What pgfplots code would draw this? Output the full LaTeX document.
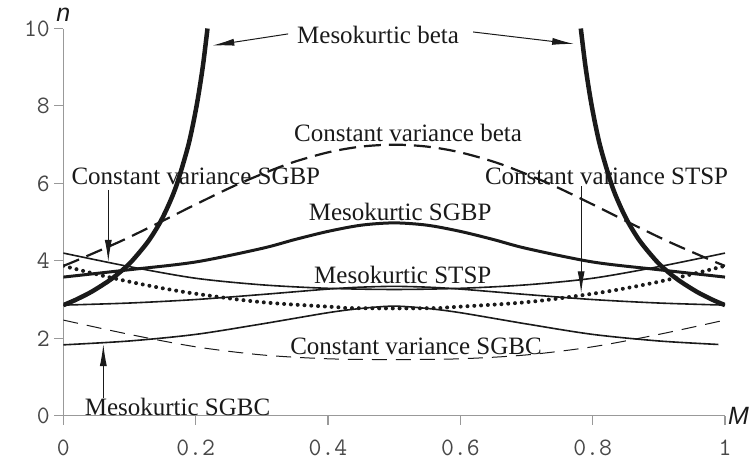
\documentclass[border=0pt]{standalone}
\usepackage{fontspec}
\setmainfont{Liberation Serif}
\newfontfamily\sansfont{Liberation Sans}
\usepackage{pgfplots}
\pgfplotsset{compat=1.18}
\usetikzlibrary{arrows.meta}
\definecolor{ink}{HTML}{1A1A1A}
\definecolor{axgray}{HTML}{999999}
\tikzset{
  lbl/.style={font=\fontsize{25}{30}\selectfont, text=ink, inner sep=0pt},
  arr/.style={ink, line width=1pt, -{Latex[length=22pt,width=7pt]}},
}

\pgfplotstableread{
M n
0 2.856
0.0063 2.9
0.0196 3
0.0426 3.2
0.0702 3.5
0.0886 3.75
0.1040 4
0.1282 4.5
0.1465 5
0.1606 5.5
0.1720 6
0.1892 7
0.2014 8
0.2107 9
0.2179 10
}\mesobetaL
\pgfplotstableread{
M n
0.7821 10
0.7893 9
0.7986 8
0.8108 7
0.8280 6
0.8394 5.5
0.8535 5
0.8718 4.5
0.8960 4
0.9114 3.75
0.9298 3.5
0.9574 3.2
0.9804 3
0.9937 2.9
1 2.856
}\mesobetaR
\pgfplotstableread{
M n
0 3.87
0.0189 4
0.0859 4.5
0.1465 5
0.2052 5.5
0.2667 6
0.3393 6.5
0.3998 6.8
0.4502 6.95
0.5 7
0.5498 6.95
0.6002 6.8
0.6607 6.5
0.7333 6
0.7948 5.5
0.8535 5
0.9141 4.5
0.9811 4
1 3.87
}\cvbeta
\pgfplotstableread{
M n
0 3.87
0.0160 3.8
0.0633 3.6
0.1170 3.4
0.1809 3.2
0.2643 3.0
0.3221 2.9
0.4161 2.8
0.4305 2.78
0.5 2.772
0.5695 2.78
0.5839 2.8
0.6779 2.9
0.7357 3.0
0.8191 3.2
0.8830 3.4
0.9367 3.6
0.9840 3.8
1 3.87
}\cvstsp
\pgfplotstableread{
M n
0 2.856
0.1 2.91
0.2 3.0
0.3 3.13
0.4 3.27
0.45 3.32
0.5 3.34
0.55 3.32
0.6 3.27
0.7 3.13
0.8 3.0
0.9 2.91
1 2.856
}\mesostsp
\pgfplotstableread{
M n
0 4.2
0.1 3.85
0.2 3.55
0.3 3.38
0.4 3.29
0.5 3.26
0.6 3.29
0.7 3.38
0.8 3.55
0.9 3.85
1 4.2
}\cvsgbp
\pgfplotstableread{
M n
0 3.58
0.1 3.77
0.2 3.97
0.3 4.32
0.35 4.55
0.4 4.76
0.45 4.92
0.5 4.98
0.55 4.92
0.6 4.76
0.65 4.55
0.7 4.32
0.8 3.97
0.9 3.77
1 3.58
}\mesosgbp
\pgfplotstableread{
M n
0 1.83
0.1 1.93
0.2 2.1
0.3 2.37
0.4 2.66
0.45 2.77
0.5 2.83
0.55 2.77
0.6 2.66
0.7 2.37
0.8 2.1
0.9 1.93
0.99 1.84
}\mesosgbc
\pgfplotstableread{
M n
0 2.47
0.1 2.1
0.2 1.78
0.3 1.57
0.4 1.47
0.5 1.45
0.6 1.47
0.7 1.57
0.8 1.78
0.9 2.1
1 2.47
}\cvsgbc

\begin{document}
\begin{tikzpicture}
\useasboundingbox (-63.3pt,-51.3pt) rectangle (685.7pt,415.7pt);
\begin{axis}[
  at={(0pt,0pt)}, anchor=south west,
  width=661.7pt, height=387.2pt, scale only axis,
  xmin=0, xmax=1, ymin=0, ymax=10,
  axis x line*=bottom, axis y line*=left,
  axis line style={axgray, line width=1.1pt},
  xtick={0,0.2,0.4,0.6,0.8,1},
  xticklabels={0,0.2,0.4,0.6,0.8,1},
  ytick={0,2,4,6,8,10},
  yticklabels={0,2,4,6,8,10},
  tick align=outside,
  major tick length=9pt,
  tick style={axgray, line width=1.1pt},
  ticklabel style={font=\ttfamily\fontsize{25}{25}\selectfont, text=ink!80},
  xticklabel style={yshift=-15pt, inner sep=0pt},
  yticklabel style={xshift=-1pt},
  clip mode=individual,
  every axis plot/.append style={ink, smooth, no markers},
]
% texts
\node[lbl] at (axis cs:0.4757,9.84) {Mesokurtic beta};
\node[lbl] at (axis cs:0.521,7.30) {Constant variance beta};
\node[lbl] at (axis cs:0.2003,6.18) {Constant variance SGBP};
\node[lbl] at (axis cs:0.821,6.18) {Constant variance STSP};
\node[lbl] at (axis cs:0.509,5.27) {Mesokurtic SGBP};
\node[lbl] at (axis cs:0.513,3.64) {Mesokurtic STSP};
\node[lbl] at (axis cs:0.533,1.78) {Constant variance SGBC};
\node[lbl] at (axis cs:0.1726,0.23) {Mesokurtic SGBC};
% arrows
\draw[arr] (axis cs:0.3397,9.86) -- (axis cs:0.2252,9.56);
\draw[arr] (axis cs:0.6194,9.91) -- (axis cs:0.772,9.60);
\draw[arr] (axis cs:0.068,5.83) -- (axis cs:0.068,3.97);
\draw[arr] (axis cs:0.7826,5.92) -- (axis cs:0.7826,3.16);
\draw[arr] (axis cs:0.0605,0.45) -- (axis cs:0.0605,1.85);
% axis names
\node[font=\sansfont\itshape\fontsize{25}{25}\selectfont, text=ink, anchor=base, inner sep=0pt] at ([yshift=7pt]rel axis cs:0,1) {n};
\node[font=\sansfont\itshape\fontsize{25}{25}\selectfont, text=ink, anchor=west, inner sep=0pt] at ([xshift=3pt]rel axis cs:1,0) {M};
% curves
\addplot[line width=1pt, dash pattern=on 15pt off 9pt] table[x=M,y=n] {\cvsgbc};
\addplot[line width=1.6pt] table[x=M,y=n] {\mesosgbc};
\addplot[line width=1.6pt] table[x=M,y=n] {\cvsgbp};
\addplot[line width=1.6pt] table[x=M,y=n] {\mesostsp};
\addplot[line width=4pt, line cap=round, dash pattern=on 0pt off 6.8pt] table[x=M,y=n] {\cvstsp};
\addplot[line width=3pt] table[x=M,y=n] {\mesosgbp};
\addplot[line width=2.2pt, dash pattern=on 17pt off 8pt] table[x=M,y=n] {\cvbeta};
\addplot[line width=4.5pt] table[x=M,y=n] {\mesobetaL};
\addplot[line width=4.5pt] table[x=M,y=n] {\mesobetaR};
\end{axis}
\end{tikzpicture}
\end{document}
